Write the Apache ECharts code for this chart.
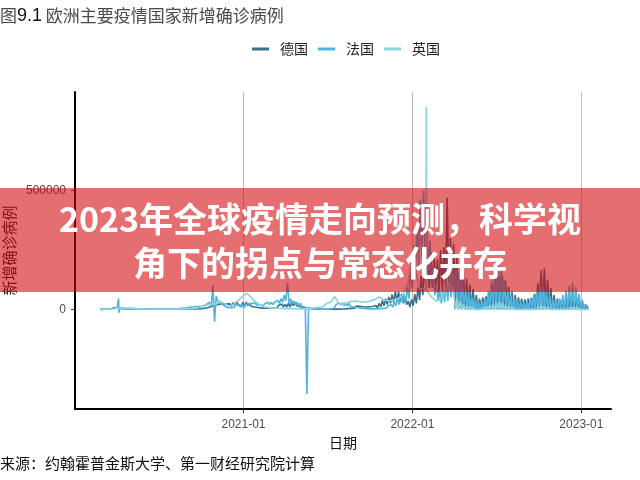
<!DOCTYPE html>
<html>
<head>
<meta charset="utf-8">
<script src="https://cdn.jsdelivr.net/npm/echarts@6/dist/echarts.min.js"></script>
<style>html,body{margin:0;padding:0;background:#fff}#c{width:640px;height:480px}</style>
</head>
<body>
<div id="c"></div>
<script>
// ---------- data ----------
const seriesNames = ["德国", "法国", "英国"];
const seriesColors = ["#3a6f8f", "#4fb4e0", "#88d3dc"];
const xTickLabels = ["2021-01", "2022-01", "2023-01"];
const yTickValues = [0, 500000];

// Germany: irregular early points, then two readings per week (peak day, weekend) from 2020-10-01
const deEarly = [["2020-02-26",0],["2020-03-08",200],["2020-03-15",1200],["2020-03-22",3500],["2020-03-27",6500],["2020-04-02",6200],["2020-04-09",5000],["2020-04-16",3000],["2020-04-23",2200],["2020-05-01",1200],["2020-05-15",800],["2020-06-01",400],["2020-06-18",1000],["2020-07-01",400],["2020-07-20",500],["2020-08-10",1000],["2020-08-21",1700],["2020-09-05",1200],["2020-09-20",1800]];
const deHalfWeekStart = "2020-10-01";
const deHalfWeek = [
2500,1500, 4000,2500, 7000,4000, 11000,7000, 17000,12000, 20000,14000, 23000,15000, 23000,15000, 22000,14000, 23000,13000,
28000,18000, 33000,20000, 25000,14000, 30000,12000, 31000,16000, 25000,13000, 20000,10000, 17000,8000, 14000,6000, 10000,5000,
10000,5000, 11000,6000, 11000,6000, 14000,7000, 17000,9000, 22000,11000, 21000,10000, 25000,10000, 30000,15000, 29000,16000,
24000,12000, 18000,9000, 14000,6000, 10000,4000, 6000,3000, 4000,2000, 2500,1000, 1500,500, 1000,500, 1000,500,
1200,600, 1800,800, 2500,1000, 3500,1500, 4000,2000, 6000,3000, 9000,4000, 12000,5000, 14000,6000, 13000,5000,
11000,5000, 10000,4000, 11000,5000, 12000,5000, 16000,7000, 25000,11000, 37000,15000, 45000,20000, 52000,25000, 63000,30000,
75000,35000, 74000,30000, 65000,25000, 52000,20000, 35000,10000, 42000,15000, 64000,25000, 92000,40000, 140000,60000, 190000,80000,
235000,90000, 240000,90000, 220000,80000, 210000,70000, 250000,80000, 262000,90000, 470000,100000, 300000,90000, 275000,0, 220000,0,
175000,0, 160000,0, 130000,0, 105000,0, 85000,0, 60000,0, 45000,0, 50000,0, 55000,0, 75000,0,
105000,0, 130000,0, 140000,0, 145000,0, 120000,0, 95000,0, 75000,0, 60000,0, 50000,0, 45000,0,
42000,0, 45000,0, 48000,0, 65000,0, 110000,0, 165000,0, 172000,0, 125000,0, 90000,0, 60000,0,
45000,0, 40000,0, 38000,0, 42000,0, 50000,0, 55000,0, 48000,0, 30000,0, 25000,0, 18000,0];

// France
const frEarly = [["2020-02-26",0],["2020-03-10",300],["2020-03-20",1800],["2020-03-28",4500],["2020-04-03",5000],["2020-04-06",46000],["2020-04-07",-14000],["2020-04-09",4500],["2020-04-16",3000],["2020-04-25",1500],["2020-05-05",800],["2020-05-20",400],["2020-06-10",500],["2020-07-01",600],["2020-07-20",900],["2020-08-05",1500],["2020-08-20",4000],["2020-09-01",7000],["2020-09-12",10000],["2020-09-20",12000]];
const frHalfWeekStart = "2020-09-29";
const frHalfWeek = [
12000,5000, 14000,8000, 20000,12000, 30000,15000, 100000,-52000, 55000,35000, 40000,25000, 30000,15000, 15000,8000, 12000,7000,
14000,8000, 17000,10000, 18000,9000, 20000,5000, 22000,15000, 23000,16000, 25000,17000, 27000,18000, 26000,18000, 22000,15000,
24000,16000, 30000,20000, 30000,20000, 30000,22000, 38000,25000, 45000,30000, 60000,35000, 112000,25000, 45000,25000, 35000,20000,
30000,15000, 25000,12000, 20000,10000, -357000,8000, 6000,3000, 5000,2000, 4000,2000, 3000,1000, 2500,1000, 3000,1500,
5000,3000, 10000,6000, 20000,12000, 28000,18000, 28000,15000, 28000,15000, 25000,12000, 20000,10000, 15000,8000, 10000,5000,
8000,4000, 6000,3000, 5000,2000, 5000,2000, 5000,2000, 6000,3000, 8000,4000, 10000,5000, 14000,7000, 20000,10000,
32000,15000, 47000,20000, 61000,30000, 63000,30000, 91000,45000, 180000,90000, 271000,150000, 368000,180000, 464000,220000, 501000,220000,
390000,150000, 290000,100000, 180000,60000, 110000,35000, 80000,25000, 90000,30000, 120000,35000, 170000,50000, 190000,50000, 175000,40000,
155000,5000, 120000,5000, 90000,0, 70000,0, 50000,0, 40000,0, 30000,0, 35000,0, 45000,0, 75000,0,
120000,0, 180000,0, 210000,0, 180000,0, 125000,0, 85000,0, 60000,0, 45000,0, 35000,0, 30000,0,
30000,0, 35000,0, 45000,0, 60000,0, 80000,0, 100000,0, 95000,0, 75000,0, 55000,0, 40000,0,
38000,0, 45000,0, 60000,0, 80000,0, 100000,0, 112000,0, 95000,0, 65000,0, 40000,0, 22000,0];

// United Kingdom
const ukEarly = [["2020-02-26",0],["2020-03-15",300],["2020-04-01",4000],["2020-04-15",5000],["2020-05-01",5000],["2020-05-15",3000],["2020-06-01",1500],["2020-07-01",700],["2020-08-01",800],["2020-08-20",1200],["2020-09-08",3000],["2020-09-22",5000],["2020-10-06",14000],["2020-10-20",21000],["2020-11-03",22000],["2020-11-12",33000],["2020-11-20",25000],["2020-12-01",14000],["2020-12-10",20000],["2020-12-20",36000],["2020-12-29",53000],["2021-01-08",68000],["2021-01-15",55000],["2021-01-22",40000],["2021-01-29",29000],["2021-02-05",19000],["2021-02-15",10000],["2021-03-01",6000],["2021-03-15",5000],["2021-04-01",4000],["2021-04-15",3000],["2021-05-01",2200],["2021-05-15",2000],["2021-05-29",4000],["2021-06-10",7500],["2021-06-20",10000],["2021-07-01",26000],["2021-07-10",33000],["2021-07-17",54000],["2021-07-24",30000],["2021-08-01",22000],["2021-08-10",25000],["2021-08-20",33000],["2021-09-01",35000],["2021-09-15",30000],["2021-10-01",34000],["2021-10-15",45000],["2021-10-21",52000],["2021-11-01",38000],["2021-11-15",36000],["2021-12-01",45000],["2021-12-10",57000],["2021-12-15",80000],["2021-12-22",106000],["2021-12-29",183000],["2022-01-04",218000],["2022-01-10",142000],["2022-01-17",84000],["2022-01-24",88000],["2022-01-30",80000],["2022-01-31",852000],["2022-02-01",80000],["2022-02-08",60000],["2022-02-15",45000],["2022-02-22",35000],["2022-03-01",40000],["2022-03-08",60000],["2022-03-15",85000],["2022-03-22",110000],["2022-03-29",90000]];
const ukHalfWeekStart = "2022-04-01";
const ukHalfWeek = [
60000,0, 45000,0, 30000,0, 22000,0, 15000,0, 12000,0, 10000,0, 8000,0, 8000,0, 9000,0,
12000,0, 18000,0, 24000,0, 28000,0, 30000,0, 26000,0, 20000,0, 14000,0, 10000,0, 8000,0,
6000,0, 5000,0, 5000,0, 5000,0, 6000,0, 8000,0, 12000,0, 14000,0, 12000,0, 9000,0,
6000,0, 5000,0, 4000,0, 4000,0, 5000,0, 6000,0, 9000,0, 12000,0, 10000,0, 8000,0,
6000,0, 4000,0];

const xMinDate = "2020-01-03";
const xMaxDate = "2023-03-06";
const yMin = -420000, yMax = 916000;

// ---------- build ----------
const DAY = 86400000;
function ms(s) { return new Date(s + "T00:00:00").getTime(); }
function build(early, start, halfWeek) {
  const out = early.map(p => [ms(p[0]), p[1]]);
  const t0 = ms(start);
  halfWeek.forEach((v, i) => out.push([t0 + i * 3.5 * DAY, v]));
  return out;
}
const allData = [
  build(deEarly, deHalfWeekStart, deHalfWeek),
  build(frEarly, frHalfWeekStart, frHalfWeek),
  build(ukEarly, ukHalfWeekStart, ukHalfWeek)
];

const chart = echarts.init(document.getElementById("c"), null, { renderer: "canvas" });
const cjk = '"Noto Sans CJK SC", "Noto Sans", sans-serif';
const latin = '"Liberation Sans", Arial, sans-serif';

chart.setOption({
  animation: false,
  backgroundColor: "#fff",
  textStyle: { fontFamily: cjk },
  title: {
    text: "图{b|9.1} 欧洲主要疫情国家新增确诊病例",
    left: 0, top: 7, padding: 0,
    textStyle: {
      fontSize: 17, fontWeight: "normal", color: "#4a4a4a", fontFamily: cjk,
      rich: { b: { fontSize: 18, color: "#111", fontFamily: latin } }
    }
  },
  legend: {
    data: seriesNames,
    left: 252, top: 42, padding: 0,
    icon: "rect", itemWidth: 17, itemHeight: 3, itemGap: 10,
    textStyle: { fontSize: 14, color: "#222", padding: [0, 0, 0, 6], fontFamily: cjk }
  },
  grid: { left: 75, right: 29, top: 92, bottom: 71, containLabel: false, outerBoundsMode: "none" },
  xAxis: {
    type: "time",
    min: ms(xMinDate), max: ms(xMaxDate),
    minInterval: 360 * DAY, maxInterval: 370 * DAY,
    axisLine: { onZero: false, lineStyle: { color: "#000", width: 2 } },
    axisTick: { show: true, length: 4, lineStyle: { color: "#333" } },
    axisLabel: {
      fontSize: 12, color: "#4d4d4d", margin: 10, fontFamily: latin,
      showMinLabel: false, showMaxLabel: false,
      formatter: function (v) {
        const d = new Date(v);
        const s = d.getFullYear() + "-" + String(d.getMonth() + 1).padStart(2, "0");
        return xTickLabels.indexOf(s) >= 0 ? s : "";
      }
    },
    splitLine: { show: true, showMinLine: false, showMaxLine: false, lineStyle: { color: "#bdbdbd", width: 1 } },
    name: "日期", nameLocation: "middle", nameGap: 27, nameMoveOverlap: false,
    nameTextStyle: { fontSize: 14, color: "#111", fontFamily: cjk }
  },
  yAxis: {
    type: "value", min: yMin, max: yMax,
    axisLine: { show: true, lineStyle: { color: "#000", width: 2 } },
    axisTick: { show: true, length: 4, customValues: yTickValues, lineStyle: { color: "#333" } },
    axisLabel: { customValues: yTickValues, fontSize: 12, color: "#4d4d4d", margin: 9, fontFamily: latin,
                 formatter: function (v) { return String(v); } },
    splitLine: { show: false },
    name: "新增确诊病例", nameLocation: "middle", nameGap: 58, nameMoveOverlap: false,
    nameTextStyle: { fontSize: 15, color: "#222", fontFamily: cjk }
  },
  series: seriesNames.map((n, i) => ({
    name: n, type: "line", data: allData[i],
    showSymbol: false, symbol: "none",
    lineStyle: { width: 1.6, color: seriesColors[i] },
    itemStyle: { color: seriesColors[i] },
    z: 2 + i
  })),
  graphic: [
    { type: "rect", z: 100, shape: { x: 0, y: 188, width: 640, height: 104 },
      style: { fill: "rgba(210,0,5,0.57)" } },
    { type: "text", z: 101, x: 320, y: 219.5,
      style: { text: "2023年全球疫情走向预测，科学视", align: "center", verticalAlign: "middle",
               fontSize: 34, fontWeight: "bold", fontFamily: cjk, fill: "#fff" } },
    { type: "text", z: 101, x: 320, y: 263,
      style: { text: "角下的拐点与常态化并存", align: "center", verticalAlign: "middle",
               fontSize: 34, fontWeight: "bold", fontFamily: cjk, fill: "#fff" } },
    { type: "text", z: 101, x: 0, y: 463,
      style: { text: "来源：约翰霍普金斯大学、第一财经研究院计算", verticalAlign: "middle",
               fontSize: 15, fontFamily: cjk, fill: "#111" } }
  ]
});
</script>
</body>
</html>
